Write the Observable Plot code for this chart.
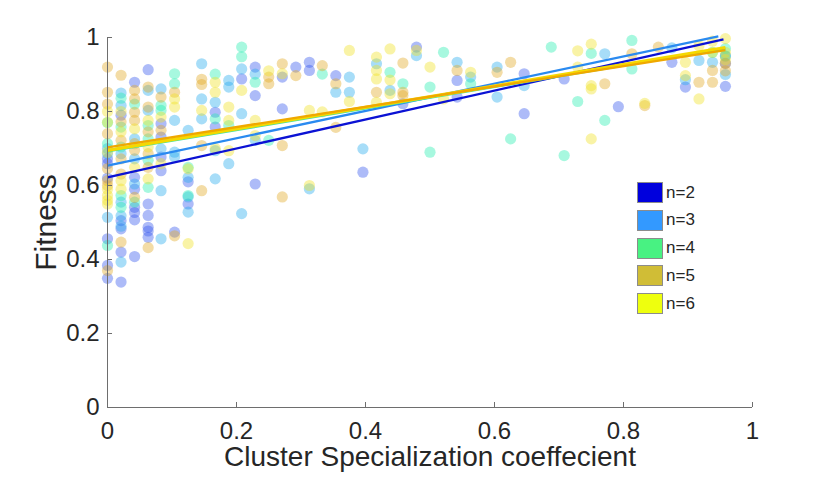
<!DOCTYPE html>
<html>
<head>
<meta charset="utf-8">
<script src="https://cdn.jsdelivr.net/npm/d3@7"></script>
<script src="https://cdn.jsdelivr.net/npm/@observablehq/plot@0.6"></script>
<style>
  body { margin: 0; background: #fff; font-family: "Liberation Sans", Arial, Helvetica, sans-serif; }
  #wrap { position: relative; width: 830px; height: 478px; overflow: hidden; }
  #legend { position: absolute; left: 637px; top: 182px; }
  .item { position: absolute; left: 0; display: flex; align-items: center; height: 21px; white-space: nowrap; }
  .sw { width: 26px; height: 21px; box-sizing: border-box; border: 1px solid #8c8c8c; }
  .lab { margin-left: 3px; font-size: 17px; color: #262626; }
</style>
</head>
<body>
<div id="wrap"><div id="chart"></div><div id="legend"></div></div>
<script>
// ---- data ----
const series = ["n=2", "n=3", "n=4", "n=5", "n=6"];
const pointColors = ["#3355ee", "#22aaee", "#22eeb0", "#e0a820", "#f0e020"];
const lineColors = ["#0b12d4", "#2a8af0", "#3fe3a5", "#f0a800", "#f5d800"];
const lineWidths = [2.3, 2.3, 2.3, 2.3, 3.2];
const legendColors = ["#0000dd", "#3399ff", "#48f282", "#d0bd36", "#eeff0e"];

const n2X = [0,0,0,0,0,0, .021,.021,.021,.021,.021, .042,.042,.042,.042,.042,.042,.042, .063,.063,.063,.063,.063,.063, .083,.083,.083,.083, .104, .125,.125, .167,.167, .208, .229,.229,.229, .271,.271, .292, .313,.313, .354, .396, .458, .479, .542,.542, .646,.646, .708, .792, .875, .896, .958,.958,.958];
const n2Y = [.672,.659,.456,.384,.349,.62, .79,.483,.42,.339,.505, .879,.622,.59,.541,.527,.507,.408, .913,.55,.519,.487,.477,.46, .767,.731,.677,.64, .474, .61,.55, .798,.758, .888, .92,.843,.604, .893,.807, .92, .933,.911, .897, .636, .821, .974, .884,.839, .902,.794, .888, .813, .933, .866, .868,.93,.95];

const n3X = [0,0,0, .021,.021,.021,.021,.021,.021,.021, .042,.042,.042, .063,.063, .083,.083,.083,.083, .104,.104,.104, .125,.125,.125,.125, .146,.146,.146, .167,.167,.167, .188,.188,.188, .208,.208,.208, .229,.229, .313, .354, .375,.375, .396, .417, .438, .479, .542, .563, .604,.604, .646, .771, .875, .896, .917, .938, .958];
const n3Y = [.686,.514,.70, .85,.816,.686,.555,.518,.49,.393, .726,.672,.604, .857,.803, .861,.699,.586,.456, .776,.69,.677, .749,.622,.569,.528, .929,.834,.78, .825,.694,.618, .884,.866,.659, .915,.794,.524, .901,.722, .591, .852, .893,.852, .699, .929, .857, .951, .933, .893, .92,.839, .87, .956, .972, .886, .938, .933, .9];

const n4X = [0,0,0, .021,.021,.021,.021,.021, .042,.042, .063,.063,.063,.063, .083,.083, .104,.104, .125,.125, .167,.167, .188, .208,.208, .229, .25, .333, .438, .458, .5,.5, .521, .563, .625, .688, .708, .729, .75, .771, .813,.813, .938, .958,.958];
const n4Y = [.713,.438,.77, .836,.758,.704,.541,.573, .82,.555, .762,.726,.668,.595, .816,.803, .902,.875, .649,.573, .901,.78, .762, .974,.948, .879, .722, .901, .906, .875, .866,.69, .96, .875, .726, .974, .681, .827, .957, .776, .992,.915, .96, .95,.97];

const n5X = [0,0,0,0,0,0,0,0, .021,.021,.021,.021,.021,.021, .042,.042,.042,.042,.042,.042,.042, .063,.063,.063,.063,.063,.063, .083,.083, .104,.104, .146,.146,.146,.146, .25,.25, .271,.271,.271, .292, .333, .354,.354, .417, .458,.458,.458, .542, .604, .625, .771, .813, .833, .854, .917, .938,.938, .958,.958];
const n5Y = [.92,.852,.74,.646,.613,.37,.82,.6, .898,.772,.722,.672,.631,.447, .857,.834,.798,.776,.713,.695,.568, .866,.812,.745,.686,.649,.432, .839,.749, .852,.464, .887,.873,.708,.586, .893,.875, .929,.708,.569, .897, .924, .875,.757, .852, .931,.852,.843, .911, .906, .933, .875, .956, .816, .974, .879, .911,.879, .91,.93];

const n6X = [0,0,0,0,0,0,0, .021,.021,.021,.021, .042,.042, .063,.063,.063, .083,.083, .104,.104, .125,.125, .146, .167,.167,.167, .188,.188,.188, .208, .229,.229, .25, .271, .313,.313, .333, .375,.375, .417,.417,.417,.417, .438,.438,.438, .479, .5, .521, .563, .729,.729, .75,.75,.75,.75, .833, .896,.896, .917,.917, .938,.938, .958,.958,.958];
const n6Y = [.80,.771,.59,.573,.55,.56,.69, .745,.613,.59,.8, .753,.649, .776,.704,.618, .785,.659, .834,.812, .645,.443, .803, .879,.852,.70, .812,.776,.694, .857, .776,.735, .91, .902, .803,.60, .799, .965,.827, .947,.911,.888,.825, .969,.885,.848, .965, .92, .834, .906, .964,.92, .982,.87,.861,.726, .822, .933,.897, .978,.834, .99,.96, .997,.96,.94];

// regression lines: start / end x and y
const fitX0 = [0, 0, 0, 0, 0];
const fitX1 = [0.955, 0.947, 0.958, 0.958, 0.958];
const fitY0 = [0.622, 0.654, 0.692, 0.703, 0.695];
const fitY1 = [0.995, 1.003, 0.970, 0.966, 0.973];

const xTicks = [0, 0.2, 0.4, 0.6, 0.8, 1];
const yTicks = [0, 0.2, 0.4, 0.6, 0.8, 1];
const xLabel = "Cluster Specialization coeffecient";
const yLabel = "Fitness";

// ---- build ----
const allX = [n2X, n3X, n4X, n5X, n6X];
const allY = [n2Y, n3Y, n4Y, n5Y, n6Y];
const font = "'Liberation Sans', Arial, Helvetica, sans-serif";
const textColor = "#262626";
const axisColor = "#6e6e6e";
const fmt = d => String(d);

const dotMarks = series.map((s, i) =>
  Plot.dot(allX[i].map((x, j) => ({x, y: allY[i][j]})), {
    x: "x", y: "y", r: 5.6, fill: pointColors[i], fillOpacity: 0.4, stroke: "none"
  })
);
const lineOrder = [0, 1, 2, 4, 3];
const lineMarks = lineOrder.map(i =>
  Plot.link([{x1: fitX0[i], y1: fitY0[i], x2: fitX1[i], y2: fitY1[i]}], {
    x1: "x1", y1: "y1", x2: "x2", y2: "y2", stroke: lineColors[i], strokeWidth: lineWidths[i]
  })
);

const chart = Plot.plot({
  width: 830,
  height: 478,
  marginLeft: 107,
  marginRight: 78,
  marginTop: 37,
  marginBottom: 71,
  style: {fontFamily: font, color: textColor, background: "#fff"},
  x: {domain: [0, 1]},
  y: {domain: [0, 1]},
  marks: [
    ...dotMarks,
    ...lineMarks,
    Plot.ruleY([0], {stroke: axisColor, strokeWidth: 1}),
    Plot.ruleX([0], {stroke: axisColor, strokeWidth: 1}),
    Plot.ruleX(xTicks, {x: d => d, y1: 0, y2: 0.0135, stroke: axisColor}),
    Plot.ruleY(yTicks, {y: d => d, x1: 0, x2: 0.0078, stroke: axisColor}),
    Plot.axisX(xTicks, {tickSize: 0, tickPadding: 14, fontSize: 24, fill: textColor, label: null, tickFormat: fmt}),
    Plot.axisY(yTicks, {tickSize: 0, tickPadding: 8, fontSize: 24, fill: textColor, label: null, tickFormat: fmt}),
    Plot.text([xLabel], {text: d => d, frameAnchor: "bottom", dy: 50, fontSize: 28, fill: textColor, lineAnchor: "middle", textAnchor: "middle"}),
    Plot.text([yLabel], {text: d => d, frameAnchor: "left", dx: -61, rotate: -90, fontSize: 30, fill: textColor, lineAnchor: "middle", textAnchor: "middle"})
  ]
});
document.getElementById("chart").appendChild(chart);

const legend = document.getElementById("legend");
series.forEach((s, i) => {
  const item = document.createElement("div");
  item.className = "item";
  item.style.top = (i * 27.75) + "px";
  const sw = document.createElement("div");
  sw.className = "sw";
  sw.style.background = legendColors[i];
  const lab = document.createElement("span");
  lab.className = "lab";
  lab.textContent = s;
  item.appendChild(sw);
  item.appendChild(lab);
  legend.appendChild(item);
});
</script>
</body>
</html>
